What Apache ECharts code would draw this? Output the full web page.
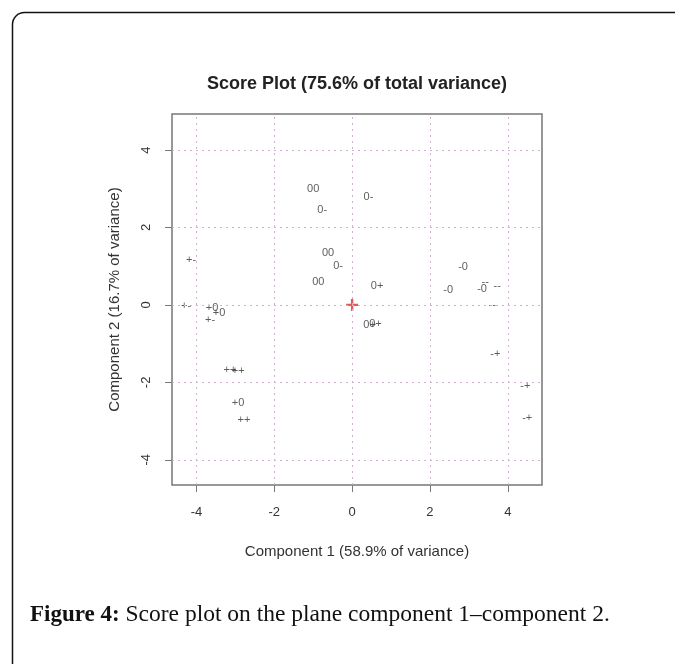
<!DOCTYPE html>
<html>
<head>
<meta charset="utf-8">
<script src="https://cdn.jsdelivr.net/npm/echarts@6/dist/echarts.min.js"></script>
<style>
html,body{margin:0;padding:0;background:#fff;}
#chart{width:675px;height:664px;}
</style>
</head>
<body>
<div id="chart"></div>
<script>
// Data
const pointX = [-1.0, -0.77, 0.42, -4.14, -4.27, -3.6, -3.42, -3.65, -0.62, -0.36, -0.87, 0.64, 0.45, 0.6, 2.85, 2.47, 3.34, 3.42, 3.73, 3.6, 3.68, -3.14, -2.93, -2.93, -2.78, 4.45, 4.5];
const pointY = [3.0, 2.45, 2.79, 1.16, -0.03, -0.08, -0.21, -0.39, 1.34, 1.0, 0.59, 0.49, -0.52, -0.5, 0.98, 0.39, 0.41, 0.6, 0.49, 0.0, -1.26, -1.68, -1.70, -2.53, -2.97, -2.09, -2.92];
const pointLabels = ["00", "0-", "0-", "+-", "+-", "+0", "+0", "+-", "00", "0-", "00", "0+", "0+", "0+", "-0", "-0", "-0", "--", "--", "--", "-+", "++", "++", "+0", "++", "-+", "-+"];
const centroid = [0, 0];
const xTicks = [-4, -2, 0, 2, 4];
const yTicks = [-4, -2, 0, 2, 4];
const xRange = [-4.63, 4.88];
const yRange = [-4.65, 4.93];

const chart = echarts.init(document.getElementById('chart'), null, {renderer: 'canvas'});

const pts = pointX.map((x, i) => ({value: [x, pointY[i]], name: pointLabels[i]}));
const gridLineStyle = {color: '#cfb2cf', type: [2, 4], width: 1};
const gridMarks = [];
xTicks.forEach(v => gridMarks.push({xAxis: v}));
yTicks.forEach(v => gridMarks.push({yAxis: v}));
const sans = 'Liberation Sans, Arial, sans-serif';

const option = {
  animation: false,
  backgroundColor: '#fff',
  title: {
    text: 'Score Plot (75.6% of total variance)',
    left: 352, top: 70, textAlign: 'center',
    textStyle: {fontFamily: sans, fontSize: 18, fontWeight: 'bold', color: '#222'}
  },
  grid: {left: 172, top: 114, right: 133, bottom: 179, show: true, borderColor: '#777', borderWidth: 1.5, backgroundColor: '#fff'},
  xAxis: {
    type: 'value', min: xRange[0], max: xRange[1],
    name: 'Component 1 (58.9% of variance)', nameLocation: 'middle', nameGap: 59,
    nameTextStyle: {fontFamily: sans, fontSize: 15, color: '#333'},
    axisLine: {show: false, onZero: false},
    axisTick: {show: true, customValues: xTicks, length: 7, lineStyle: {color: '#777'}},
    axisLabel: {customValues: xTicks, margin: 21, fontFamily: sans, fontSize: 13, color: '#333'},
    splitLine: {show: false}
  },
  yAxis: {
    type: 'value', min: yRange[0], max: yRange[1],
    name: 'Component 2 (16.7% of variance)', nameLocation: 'middle', nameGap: 50, nameRotate: 90,
    nameTextStyle: {fontFamily: sans, fontSize: 15, color: '#333'},
    axisLine: {show: false, onZero: false},
    axisTick: {show: true, customValues: yTicks, length: 7, lineStyle: {color: '#777'}},
    axisLabel: {customValues: yTicks, rotate: 90, margin: 19, fontFamily: sans, fontSize: 13, color: '#333'},
    splitLine: {show: false}
  },
  series: [
    {
      type: 'scatter',
      data: [],
      silent: true,
      markLine: {silent: true, symbol: 'none', label: {show: false}, lineStyle: gridLineStyle, data: gridMarks}
    },
    {
      type: 'scatter',
      data: pts,
      symbolSize: 1,
      itemStyle: {color: 'rgba(0,0,0,0)'},
      label: {
        show: true, position: 'inside', formatter: p => p.name,
        fontFamily: sans, fontSize: 11, color: '#333'
      }
    },
    {
      type: 'scatter',
      data: [centroid],
      symbol: 'path://M4,0H6V4H10V6H6V10H4V6H0V4H4Z',
      symbolSize: 12,
      itemStyle: {color: '#e03030'}
    }
  ],
  graphic: [
    {
      type: 'rect', left: 10, top: 10,
      shape: {width: 720, height: 720, r: 12},
      style: {fill: 'none', stroke: '#111', lineWidth: 1.5},
      z: 100
    },
    {
      type: 'text', left: 30, top: 603,
      style: {
        text: '{b|Figure 4:} Score plot on the plane component 1\u2013component 2.',
        font: '23.5px "Liberation Serif", serif',
        fill: '#111',
        rich: {b: {fontWeight: 'bold', fontSize: 23, fontFamily: 'Liberation Serif, serif', fill: '#111'}}
      },
      z: 100
    }
  ]
};
chart.setOption(option);
</script>
</body>
</html>
